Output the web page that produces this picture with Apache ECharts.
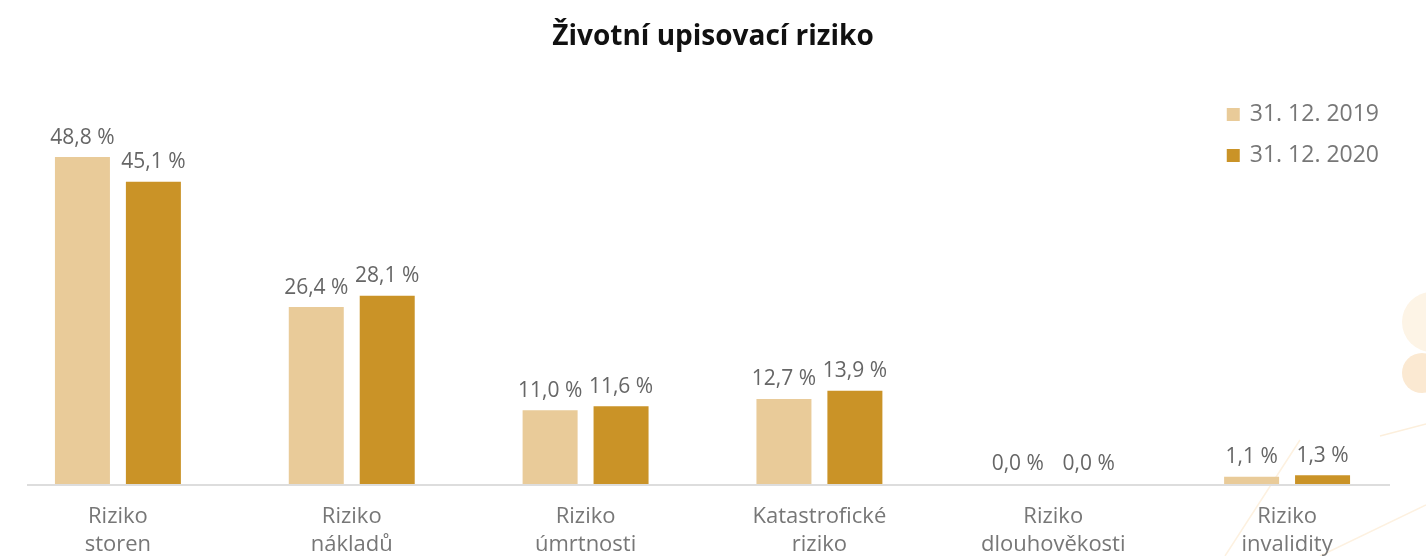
<!DOCTYPE html>
<html lang="cs">
<head>
    <meta charset="UTF-8">
    <script src="https://cdn.jsdelivr.net/npm/echarts@6/dist/echarts.min.js"></script>
    <style>
        html, body { margin: 0; padding: 0; background: #fff; }
        #graph { width: 1426px; height: 556px; }
    </style>
</head>
<body>
    <section id="graph"></section>
    <script>
        const categories = ['Riziko\nstoren', 'Riziko\nnákladů', 'Riziko\númrtnosti', 'Katastrofické\nriziko', 'Riziko\ndlouhověkosti', 'Riziko\ninvalidity'];
        const series2019 = [48.8, 26.4, 11.0, 12.7, 0.0, 1.1];
        const series2020 = [45.1, 28.1, 11.6, 13.9, 0.0, 1.3];
        const seriesNames = ['31. 12. 2019', '31. 12. 2020'];

        const font = '"Open Sans", "Noto Sans", sans-serif';
        const fmt = p => p.value.toFixed(1).replace('.', ',') + ' %';

        const myChart = echarts.init(document.getElementById('graph'));

        const label = {
            show: true,
            position: 'top',
            distance: 9,
            formatter: fmt,
            color: '#666',
            fontSize: 21,
            fontFamily: font
        };

        myChart.setOption({
            animation: false,
            title: {
                text: 'Životní upisovací riziko',
                left: 'center',
                top: 18,
                textStyle: { fontFamily: font, fontWeight: 'bold', fontSize: 28, color: '#111' }
            },
            legend: {
                orient: 'vertical',
                right: 42,
                top: 98,
                itemWidth: 13,
                itemHeight: 13,
                itemGap: 18,
                icon: 'rect',
                textStyle: { fontFamily: font, fontSize: 23, color: '#777', padding: [0, 0, 0, 5] },
                data: seriesNames
            },
            grid: { left: 1, right: 22, top: 149, bottom: 72, outerBoundsMode: 'none', containLabel: false },
            xAxis: {
                type: 'category',
                data: categories,
                axisLine: { show: false },
                axisTick: { show: false },
                axisLabel: {
                    color: '#777',
                    fontSize: 22,
                    lineHeight: 28,
                    margin: 19,
                    fontFamily: font,
                    interval: 0
                }
            },
            yAxis: {
                type: 'value',
                min: 0,
                max: 50,
                show: false,
                splitLine: { show: false }
            },
            graphic: [
                // decorative shapes at the right edge
                { type: 'circle', shape: { cx: 1432, cy: 322, r: 30 }, style: { fill: '#fdf4e6' }, z: -1 },
                { type: 'circle', shape: { cx: 1422, cy: 373, r: 20 }, style: { fill: '#fbe9d2' }, z: -1 },
                { type: 'line', shape: { x1: 1380, y1: 436, x2: 1426, y2: 424 }, style: { stroke: '#fcefdc', lineWidth: 1.5 }, z: -1 },
                { type: 'line', shape: { x1: 1225, y1: 556, x2: 1300, y2: 440 }, style: { stroke: '#fdf1e0', lineWidth: 1.5 }, z: -1 },
                { type: 'line', shape: { x1: 1320, y1: 556, x2: 1426, y2: 505 }, style: { stroke: '#fdf1e0', lineWidth: 1.5 }, z: -1 },
                // baseline
                { type: 'line', shape: { x1: 27, y1: 485, x2: 1390, y2: 485 }, style: { stroke: '#dddddd', lineWidth: 2 }, z: 1 }
            ],
            series: [
                {
                    name: seriesNames[0],
                    type: 'bar',
                    data: series2019,
                    barWidth: 55,
                    barGap: '29%',
                    itemStyle: { color: '#E9CB99' },
                    label: label
                },
                {
                    name: seriesNames[1],
                    type: 'bar',
                    data: series2020,
                    barWidth: 55,
                    itemStyle: { color: '#CA9327' },
                    label: label
                }
            ]
        });
    </script>
</body>
</html>
